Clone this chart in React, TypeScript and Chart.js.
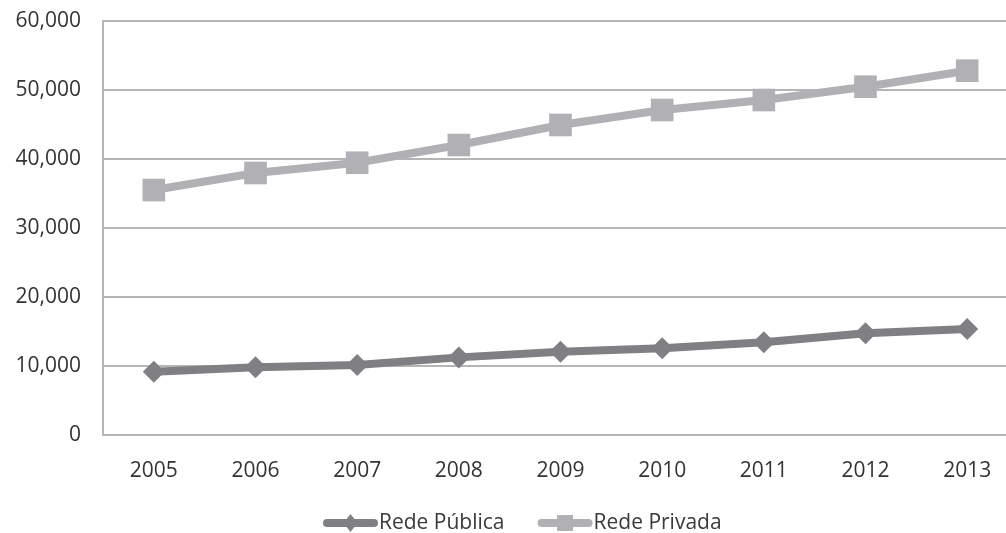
import React, { useEffect, useRef } from "react";
import { Chart, registerables } from "chart.js";

Chart.register(...registerables);

const years = ["2005", "2006", "2007", "2008", "2009", "2010", "2011", "2012", "2013"];
const redePublica = [9180, 9810, 10140, 11250, 12070, 12560, 13430, 14730, 15360];
const redePrivada = [35500, 37970, 39460, 42030, 44930, 47100, 48550, 50480, 52800];
const seriesNames = ["Rede Pública", "Rede Privada"];
const yTicks = [0, 10000, 20000, 30000, 40000, 50000, 60000];

const FONT = "'Open Sans', 'DejaVu Sans', sans-serif";
const darkGray = "#808084";
const lightGray = "#b1b1b5";
const W = 1034;

const legendPlugin = {
  id: "customLegend",
  afterDraw(chart: any) {
    const ctx = chart.ctx as CanvasRenderingContext2D;
    const y = 523;
    let x = 323;
    const lineLen = 55;
    ctx.save();
    ctx.font = `21px ${FONT}`;
    ctx.textBaseline = "middle";
    chart.data.datasets.forEach((ds: any) => {
      ctx.strokeStyle = ds.borderColor;
      ctx.lineWidth = 8;
      ctx.lineCap = "round";
      ctx.beginPath();
      ctx.moveTo(x + 4, y);
      ctx.lineTo(x + lineLen - 4, y);
      ctx.stroke();
      ctx.fillStyle = ds.borderColor;
      const cx = x + lineLen / 2;
      ctx.beginPath();
      if (ds.pointStyle === "rectRot") {
        ctx.moveTo(cx - 7, y);
        ctx.lineTo(cx, y - 9);
        ctx.lineTo(cx + 7, y);
        ctx.lineTo(cx, y + 9);
        ctx.closePath();
      } else {
        ctx.rect(cx - 8, y - 8, 16, 16);
      }
      ctx.fill();
      ctx.fillStyle = "#3a3a3a";
      ctx.textAlign = "left";
      ctx.fillText(ds.label, x + lineLen + 1, y);
      const w = ctx.measureText(ds.label).width;
      x += lineLen + 1 + w + 33;
    });
    ctx.restore();
  },
};

export default function App() {
  const ref = useRef<HTMLCanvasElement | null>(null);
  useEffect(() => {
    document.body.style.margin = "0";
    document.body.style.overflow = "hidden";
    const canvas = ref.current!;
    const chart = new Chart(canvas, {
      type: "line",
      data: {
        labels: years,
        datasets: [
          {
            label: seriesNames[0],
            data: redePublica,
            borderColor: darkGray,
            backgroundColor: darkGray,
            borderWidth: 8,
            pointStyle: "rectRot",
            pointRadius: 11,
            pointBorderWidth: 0,
            tension: 0,
          },
          {
            label: seriesNames[1],
            data: redePrivada,
            borderColor: lightGray,
            backgroundColor: lightGray,
            borderWidth: 8,
            pointStyle: "rect",
            pointRadius: 16,
            pointBorderWidth: 0,
            tension: 0,
          },
        ],
      },
      options: {
        animation: false,
        responsive: false,
        devicePixelRatio: 1,
        layout: { padding: { top: 21, left: 0, right: 0, bottom: 0 } },
        plugins: {
          legend: { display: false },
          tooltip: { enabled: false },
        },
        scales: {
          x: {
            offset: true,
            grid: { display: false, drawTicks: false },
            border: { display: true, color: "#b5b5b5", width: 2 },
            ticks: {
              font: { family: FONT, size: 21 },
              color: "#333333",
              padding: 23,
              maxRotation: 0,
            },
            afterFit(scale: any) {
              scale.height = 98;
              scale.paddingTop = 0;
              scale.paddingBottom = 0;
            },
          },
          y: {
            min: 0,
            max: 60000,
            afterBuildTicks(scale: any) {
              scale.ticks = yTicks.map((v) => ({ value: v }));
            },
            grid: { color: "#b5b5b5", lineWidth: 2, drawTicks: false },
            border: { display: true, color: "#b5b5b5", width: 2 },
            ticks: {
              font: { family: FONT, size: 21 },
              color: "#333333",
              padding: 22,
              callback: (v: any) => Number(v).toLocaleString("en-US"),
            },
            afterFit(scale: any) {
              scale.width = 103;
              scale.paddingTop = 0;
              scale.paddingBottom = 0;
            },
          },
        },
      },
      plugins: [legendPlugin],
    });
    return () => chart.destroy();
  }, []);
  return (
    <div style={{ position: "absolute", left: 0, top: 0, width: W, height: 533 }}>
      <canvas ref={ref} width={W} height={533} style={{ width: W, height: 533 }} />
    </div>
  );
}
